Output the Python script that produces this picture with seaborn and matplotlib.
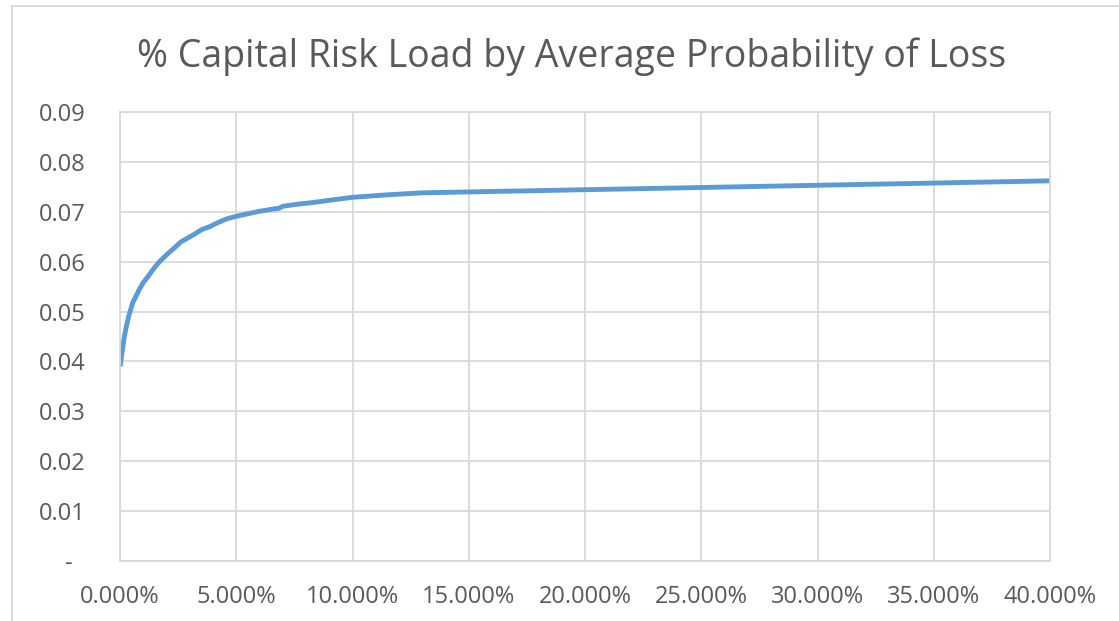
import matplotlib
matplotlib.use("Agg")
import matplotlib.pyplot as plt
from matplotlib.lines import Line2D
import seaborn as sns
import pandas as pd

# Average probability of loss (fraction) and % capital risk load
prob_of_loss = [0.0000, 0.0005, 0.0010, 0.0018, 0.0028, 0.0040, 0.0055, 0.0070,
                0.0085, 0.0100, 0.0120, 0.0140, 0.0160, 0.0185, 0.0210, 0.0235,
                0.0260, 0.0290, 0.0320, 0.0350, 0.0385, 0.0420, 0.0460, 0.0500,
                0.0550, 0.0600, 0.0650, 0.0685, 0.0700, 0.0760, 0.0820, 0.0900,
                0.1000, 0.1150, 0.1300, 0.4000]
risk_load = [0.0390, 0.0405, 0.0422, 0.0448, 0.0472, 0.0495, 0.0518, 0.0532,
             0.0546, 0.0558, 0.0570, 0.0583, 0.0595, 0.0607, 0.0618, 0.0628,
             0.0639, 0.0647, 0.0655, 0.0664, 0.0670, 0.0678, 0.0686, 0.0691,
             0.0696, 0.0701, 0.0705, 0.0707, 0.0711, 0.0715, 0.0718, 0.0723,
             0.0729, 0.0734, 0.0738, 0.0762]

x_ticks = [0.00, 0.05, 0.10, 0.15, 0.20, 0.25, 0.30, 0.35, 0.40]
x_tick_labels = ["0.000%", "5.000%", "10.000%", "15.000%", "20.000%",
                 "25.000%", "30.000%", "35.000%", "40.000%"]
y_ticks = [0.00, 0.01, 0.02, 0.03, 0.04, 0.05, 0.06, 0.07, 0.08, 0.09]
y_tick_labels = ["-  ", "0.01", "0.02", "0.03", "0.04", "0.05",
                 "0.06", "0.07", "0.08", "0.09"]
title = "% Capital Risk Load by Average Probability of Loss"

df = pd.DataFrame({"prob": prob_of_loss, "load": risk_load})

sns.set_style("white")
plt.rcParams["font.family"] = ["Open Sans", "DejaVu Sans"]

text_color = "#595959"
grid_color = "#D9D9D9"
line_color = "#5B9BD5"

fig = plt.figure(figsize=(11.19, 6.21), dpi=100)
ax = fig.add_axes([120 / 1119, 60 / 621, 930 / 1119, 449 / 621])

sns.lineplot(data=df, x="prob", y="load", ax=ax, color=line_color,
             linewidth=3.5, solid_capstyle="butt", estimator=None, sort=False)

ax.set_xlim(0, 0.40)
ax.set_ylim(0, 0.09)
ax.set_xticks(x_ticks)
ax.set_xticklabels(x_tick_labels)
ax.set_yticks(y_ticks)
ax.set_yticklabels(y_tick_labels)
ax.set_xlabel("")
ax.set_ylabel("")

ax.grid(True, color=grid_color, linewidth=1.3)
ax.set_axisbelow(True)
for side in ["left", "right", "top", "bottom"]:
    ax.spines[side].set_color(grid_color)
    ax.spines[side].set_linewidth(1.3)

ax.tick_params(axis="both", length=0, labelsize=17, colors=text_color)
ax.tick_params(axis="y", pad=25)
ax.tick_params(axis="x", pad=17)

fig.text(572 / 1119, 1 - 67 / 621, title, ha="center", va="baseline",
         fontsize=27, color=text_color)

# Outer chart frame (left and top edges)
frame_x = 12 / 1119
frame_y = 1 - 6 / 621
fig.add_artist(Line2D([frame_x, frame_x], [0, frame_y], color=grid_color,
                      linewidth=1.3, transform=fig.transFigure))
fig.add_artist(Line2D([frame_x, 1], [frame_y, frame_y], color=grid_color,
                      linewidth=1.3, transform=fig.transFigure))

fig.savefig("out.png", dpi=100)
